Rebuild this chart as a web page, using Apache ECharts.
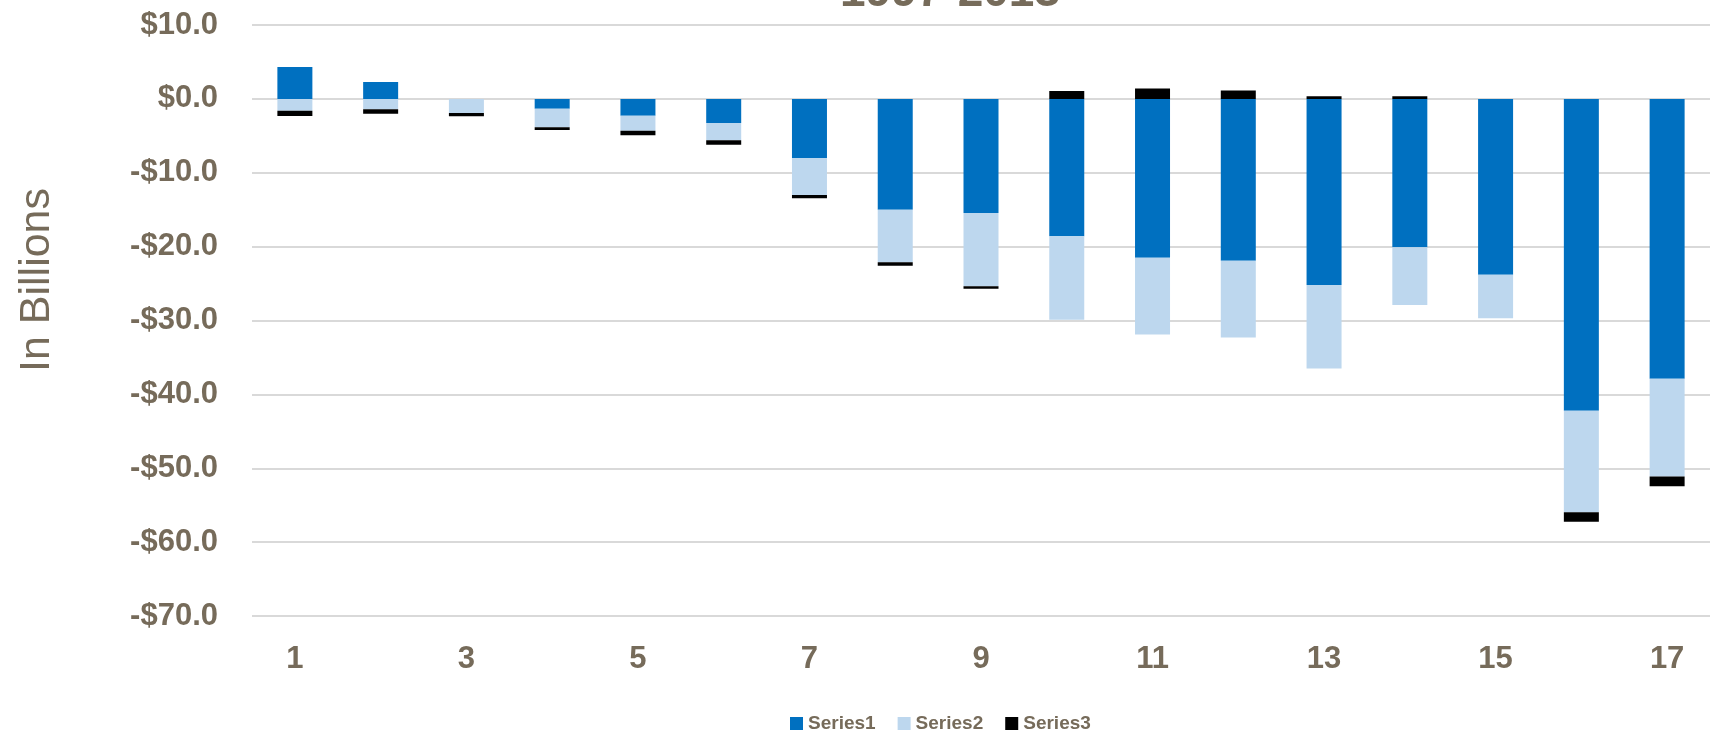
<!DOCTYPE html>
<html>
<head>
<meta charset="utf-8">
<title>1997-2013</title>
<script src="https://cdn.jsdelivr.net/npm/echarts@6/dist/echarts.min.js"></script>
<style>
  html, body { margin: 0; padding: 0; background: #ffffff; }
  #chart { width: 1710px; height: 732px; }
</style>
</head>
<body>
<div id="chart"></div>
<script>
// Categories 1..17 and the three stacked series (billions of dollars)
const categories = ['1','2','3','4','5','6','7','8','9','10','11','12','13','14','15','16','17'];
const series1 = [4.3, 2.3, 0, -1.35, -2.3, -3.25, -8.05, -15.0, -15.45, -18.6, -21.5, -21.9, -25.2, -20.1, -23.8, -42.2, -37.9];
const series2 = [-1.6, -1.4, -1.9, -2.5, -2.0, -2.35, -4.95, -7.1, -9.9, -11.3, -10.4, -10.4, -11.3, -7.8, -5.9, -13.75, -13.2];
const series3 = [-0.72, -0.63, -0.45, -0.35, -0.62, -0.62, -0.45, -0.5, -0.35, 1.05, 1.4, 1.15, 0.35, 0.35, 0, -1.3, -1.35];
const seriesNames = ['Series1', 'Series2', 'Series3'];
const seriesColors = ['#0070C0', '#BDD7EE', '#000000'];
const yMin = -70, yMax = 10, yStep = 10;
const titleText = '1997-2013';
const yAxisTitle = 'In Billions';

const textColor = '#766B5A';
const sans = "'Liberation Sans', Arial, sans-serif";

const chart = echarts.init(document.getElementById('chart'), null, { renderer: 'canvas' });

const dataSets = [series1, series2, series3];

chart.setOption({
  animation: false,
  backgroundColor: '#ffffff',
  graphic: [
    {
      // title line, partly above the top edge
      type: 'text',
      x: 950, y: 16,
      style: {
        text: titleText,
        fill: textColor,
        font: 'bold 46px ' + sans,
        textAlign: 'center',
        textVerticalAlign: 'bottom'
      }
    },
    {
      // vertical axis title
      type: 'text',
      x: 37, y: 280,
      rotation: Math.PI / 2,
      style: {
        text: yAxisTitle,
        fill: textColor,
        font: '43px ' + sans,
        textAlign: 'center',
        textVerticalAlign: 'middle'
      }
    }
  ],
  legend: {
    data: seriesNames,
    left: 785,
    top: 709,
    icon: 'rect',
    itemWidth: 13,
    itemHeight: 13,
    itemGap: 22,
    textStyle: { color: textColor, fontFamily: sans, fontWeight: 'bold', fontSize: 19 }
  },
  grid: { left: 252, right: -12, top: 25, bottom: 116, containLabel: false },
  xAxis: {
    type: 'category',
    data: categories,
    boundaryGap: true,
    axisLine: { show: false },
    axisTick: { show: false },
    axisLabel: {
      interval: 1,
      margin: 28,
      color: textColor,
      fontFamily: sans,
      fontWeight: 'bold',
      fontSize: 31
    }
  },
  yAxis: {
    type: 'value',
    min: yMin,
    max: yMax,
    interval: yStep,
    axisLine: { show: false },
    axisTick: { show: false },
    splitLine: { show: true, lineStyle: { color: '#D9D9D9', width: 2 } },
    axisLabel: {
      margin: 34,
      color: textColor,
      fontFamily: sans,
      fontWeight: 'bold',
      fontSize: 31,
      formatter: v => (v < 0 ? '-' : '') + '$' + Math.abs(v).toFixed(1)
    }
  },
  series: seriesNames.map((name, i) => ({
    name: name,
    type: 'bar',
    stack: 'total',
    barWidth: 35,
    data: dataSets[i],
    itemStyle: { color: seriesColors[i] }
  }))
});
</script>
</body>
</html>
